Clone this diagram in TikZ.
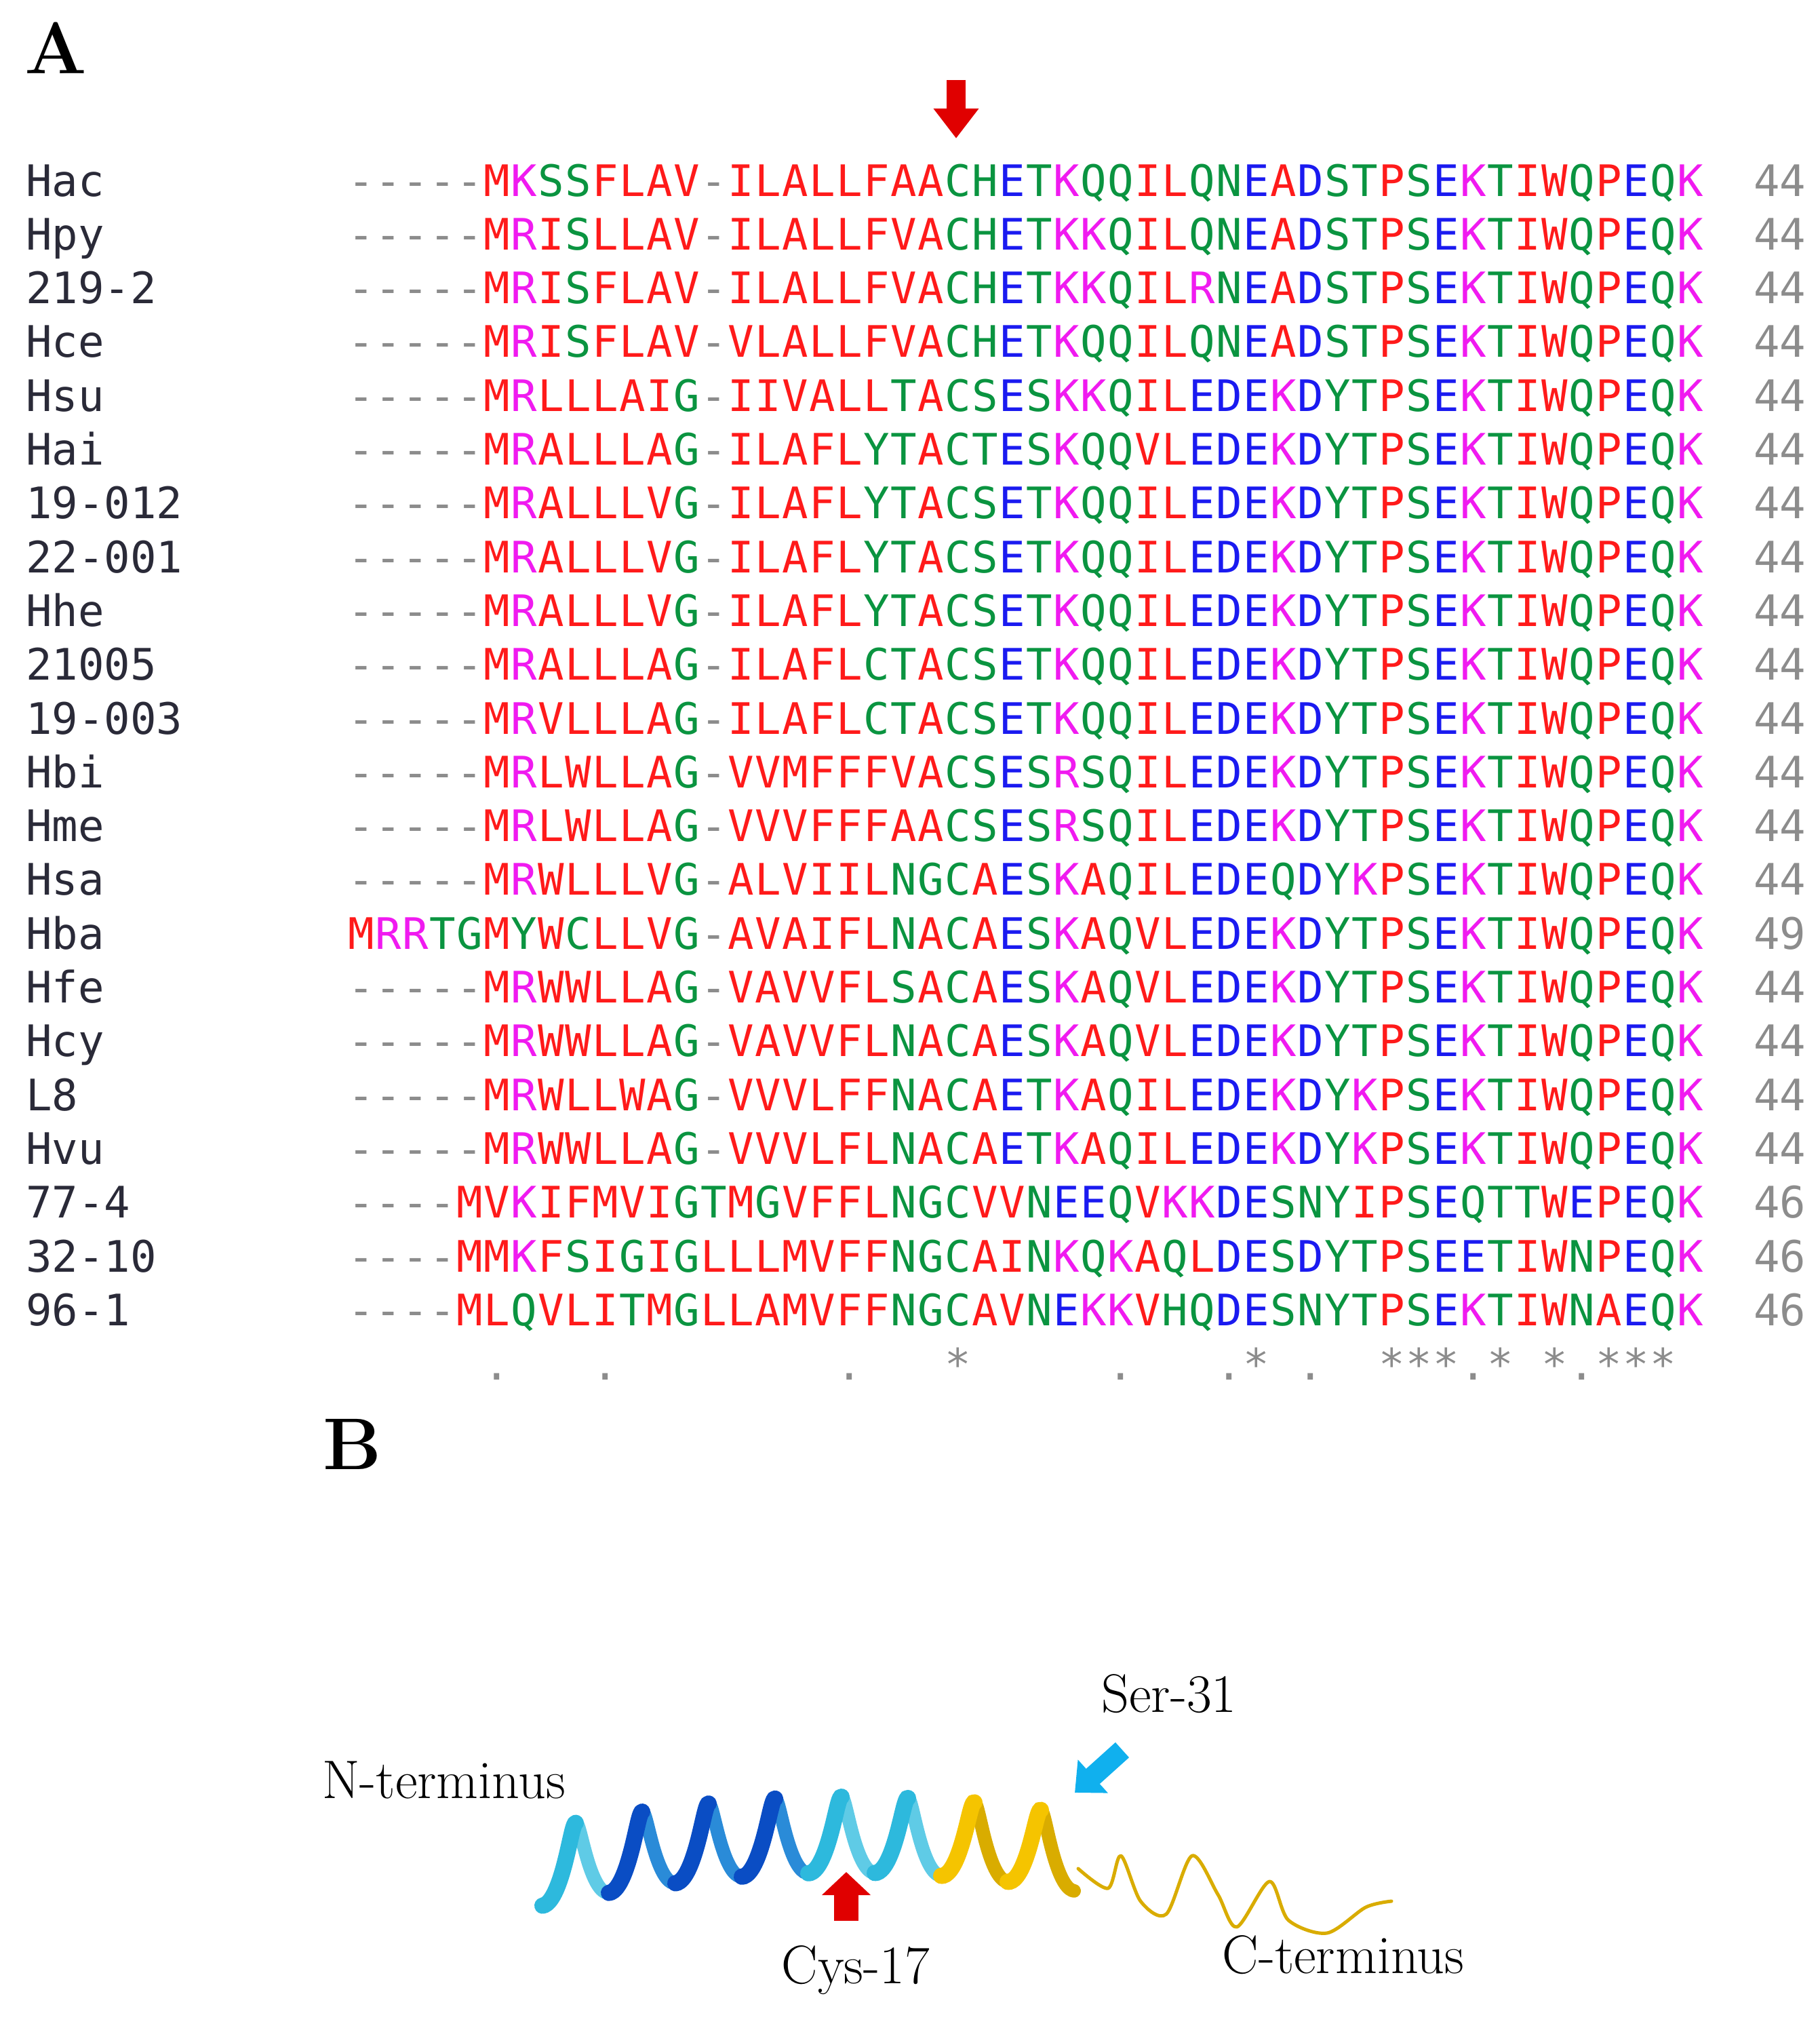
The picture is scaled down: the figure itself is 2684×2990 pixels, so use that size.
\documentclass[tikz,border=0pt]{standalone}
\usepackage{fontspec}
\usetikzlibrary{arrows.meta}
\newfontfamily\monof{DejaVu Sans Mono}
\definecolor{aar}{HTML}{FF1A1A}
\definecolor{aab}{HTML}{1A1AF0}
\definecolor{aam}{HTML}{F01AF0}
\definecolor{aag}{HTML}{0A9440}
\definecolor{aagr}{HTML}{8C8C8C}
\definecolor{namec}{HTML}{2A2A38}
\definecolor{cyanL}{HTML}{2DB9DD}
\definecolor{cyanD}{HTML}{5FCBE6}
\definecolor{blueF}{HTML}{0A4DC4}
\definecolor{blueB}{HTML}{2A8BD8}
\definecolor{goldF}{HTML}{F5C400}
\definecolor{goldB}{HTML}{D9AC00}
\definecolor{sercyan}{HTML}{10B0EE}
\definecolor{arred}{HTML}{E00000}
\newlength\cw \setlength\cw{40pt}
\def\setc#1#2{\expandafter\def\csname c@#1\endcsname{#2}}
\setc A{aar}\setc V{aar}\setc F{aar}\setc P{aar}\setc M{aar}\setc I{aar}\setc L{aar}\setc W{aar}
\setc D{aab}\setc E{aab}
\setc R{aam}\setc K{aam}
\setc S{aag}\setc T{aag}\setc Y{aag}\setc H{aag}\setc C{aag}\setc G{aag}\setc N{aag}\setc Q{aag}
\setc -{aagr}\setc .{aagr}\setc *{aagr}
\def\cell#1{\ifx_#1\hbox to\cw{}\else\hbox to\cw{\hss\textcolor{\csname c@#1\endcsname}{#1}\hss}\fi}
\def\seqloop#1{\ifx\relax#1\else\cell{#1}\expandafter\seqloop\fi}
\def\seqline#1{\seqloop#1\relax}
\newcommand\alrow[4]{%
  \pgfmathsetmacro\yy{289+79.3*(#1-1)}%
  \node[lab] (n#1) at (38,\yy) {#2};
  \node[sq] (s#1) at (513,\yy) {\seqline{#3}};
  \node[num] (c#1) at (2586,\yy) {#4};}
\begin{document}
\begin{tikzpicture}[x=1pt,y=-1pt,
  lab/.style={anchor=base west,inner sep=0,font=\monof\fontsize{64}{64}\selectfont,text=namec},
  sq/.style={anchor=base west,inner sep=0,font=\monof\fontsize{64}{64}\selectfont},
  num/.style={anchor=base west,inner sep=0,font=\monof\fontsize{64}{64}\selectfont,text=aagr},
  panel/.style={anchor=base west,inner sep=0,font=\bfseries\fontsize{108}{108}\selectfont},
  blab/.style={inner sep=0,font=\fontsize{80}{80}\selectfont}]
\useasboundingbox (0,0) rectangle (2684,2990);
\node[panel] (pA) at (36,108) {A};
\node[panel] (pB) at (476,2166) {B};
% red arrow top
\coordinate (ta0) at (1410,118);
\coordinate (ta1) at (1410,204);
\draw[arred,line width=28pt,-{Triangle[width=64pt,length=44pt]}] (ta0) -- (ta1);
\alrow{1}{Hac}{-----MKSSFLAV-ILALLFAACHETKQQILQNEADSTPSEKTIWQPEQK}{44}
\alrow{2}{Hpy}{-----MRISLLAV-ILALLFVACHETKKQILQNEADSTPSEKTIWQPEQK}{44}
\alrow{3}{219-2}{-----MRISFLAV-ILALLFVACHETKKQILRNEADSTPSEKTIWQPEQK}{44}
\alrow{4}{Hce}{-----MRISFLAV-VLALLFVACHETKQQILQNEADSTPSEKTIWQPEQK}{44}
\alrow{5}{Hsu}{-----MRLLLAIG-IIVALLTACSESKKQILEDEKDYTPSEKTIWQPEQK}{44}
\alrow{6}{Hai}{-----MRALLLAG-ILAFLYTACTESKQQVLEDEKDYTPSEKTIWQPEQK}{44}
\alrow{7}{19-012}{-----MRALLLVG-ILAFLYTACSETKQQILEDEKDYTPSEKTIWQPEQK}{44}
\alrow{8}{22-001}{-----MRALLLVG-ILAFLYTACSETKQQILEDEKDYTPSEKTIWQPEQK}{44}
\alrow{9}{Hhe}{-----MRALLLVG-ILAFLYTACSETKQQILEDEKDYTPSEKTIWQPEQK}{44}
\alrow{10}{21005}{-----MRALLLAG-ILAFLCTACSETKQQILEDEKDYTPSEKTIWQPEQK}{44}
\alrow{11}{19-003}{-----MRVLLLAG-ILAFLCTACSETKQQILEDEKDYTPSEKTIWQPEQK}{44}
\alrow{12}{Hbi}{-----MRLWLLAG-VVMFFFVACSESRSQILEDEKDYTPSEKTIWQPEQK}{44}
\alrow{13}{Hme}{-----MRLWLLAG-VVVFFFAACSESRSQILEDEKDYTPSEKTIWQPEQK}{44}
\alrow{14}{Hsa}{-----MRWLLLVG-ALVIILNGCAESKAQILEDEQDYKPSEKTIWQPEQK}{44}
\alrow{15}{Hba}{MRRTGMYWCLLVG-AVAIFLNACAESKAQVLEDEKDYTPSEKTIWQPEQK}{49}
\alrow{16}{Hfe}{-----MRWWLLAG-VAVVFLSACAESKAQVLEDEKDYTPSEKTIWQPEQK}{44}
\alrow{17}{Hcy}{-----MRWWLLAG-VAVVFLNACAESKAQVLEDEKDYTPSEKTIWQPEQK}{44}
\alrow{18}{L8}{-----MRWLLWAG-VVVLFFNACAETKAQILEDEKDYKPSEKTIWQPEQK}{44}
\alrow{19}{Hvu}{-----MRWWLLAG-VVVLFLNACAETKAQILEDEKDYKPSEKTIWQPEQK}{44}
\alrow{20}{77-4}{----MVKIFMVIGTMGVFFLNGCVVNEEQVKKDESNYIPSEQTTWEPEQK}{46}
\alrow{21}{32-10}{----MMKFSIGIGLLLMVFFNGCAINKQKAQLDESDYTPSEETIWNPEQK}{46}
\alrow{22}{96-1}{----MLQVLITMGLLAMVFFNGCAVNEKKVHQDESNYTPSEKTIWNAEQK}{46}
\node[sq] (cons) at (513,2034) {\seqline{_____.___.________.___*_____.___.*_.__***.*_*.***}};
% helix
\foreach \k/\cb/\cf in {0/cyanD/cyanL,1/blueB/blueF,2/blueB/blueF,3/blueB/blueF,4/cyanD/cyanL,5/cyanD/cyanL,6/goldB/goldF,7/goldB/goldF}{
  \draw[\cb,line width=20pt,line cap=round] plot[domain=\k+0.5:\k+1,samples=24,smooth]
    ({800+98*\x+8*sin(360*\x)},{2705+2.4*(0.98*\x-4.5)^2+56*cos(360*\x)});
}
\foreach \k/\cb/\cf in {0/cyanD/cyanL,1/blueB/blueF,2/blueB/blueF,3/blueB/blueF,4/cyanD/cyanL,5/cyanD/cyanL,6/goldB/goldF,7/goldB/goldF}{
  \draw[\cf,line width=24pt,line cap=round] plot[domain=\k:\k+0.5,samples=24,smooth]
    ({800+98*\x+8*sin(360*\x)},{2705+2.4*(0.98*\x-4.5)^2+56*cos(360*\x)});
}
% coil
\draw[goldB,line width=5pt,line cap=round,line join=round] plot[smooth,tension=0.5] coordinates
 {(1590,2755) (1634,2784) (1653,2736) (1682,2803) (1720,2822) (1758,2736) (1796,2793) (1824,2841) (1872,2774) (1900,2831) (1957,2850) (2014,2812) (2052,2803)};
% arrows in B
\coordinate (cy0) at (1248,2832);
\coordinate (cy1) at (1248,2760);
\draw[arred,line width=36pt,-{Triangle[width=70pt,length=34pt]}] (cy0) -- (cy1);
\coordinate (se0) at (1655,2580);
\coordinate (se1) at (1585,2643);
\draw[sercyan,line width=30pt,-{Triangle[width=64pt,length=36pt]}] (se0) -- (se1);
\node[blab,anchor=west] (nt) at (475,2624) {N-terminus};
\node[blab] (ser) at (1724,2497) {Ser-31};
\node[blab] (cys) at (1262,2905) {Cys-17};
\node[blab] (ct) at (1981,2882) {C-terminus};
\end{tikzpicture}
\end{document}
